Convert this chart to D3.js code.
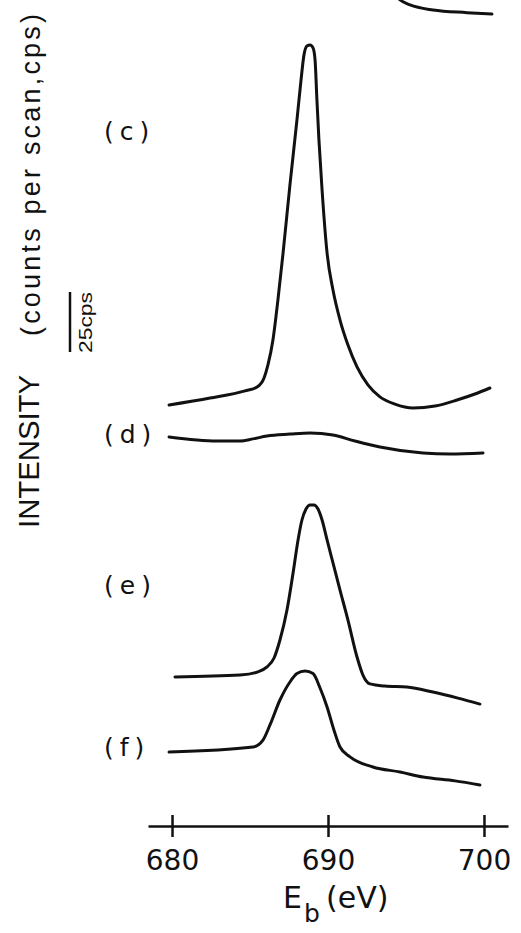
<!DOCTYPE html>
<html>
<head>
<meta charset="utf-8">
<script src="https://cdn.jsdelivr.net/npm/d3@7"></script>
<style>
  body { margin: 0; background: #fff; }
  svg { display: block; }
  .spec { fill: none; stroke: #111; stroke-width: 3; stroke-linejoin: round; stroke-linecap: round; }
  .lbl { font-family: "DejaVu Sans", sans-serif; font-size: 25px; fill: #111; letter-spacing: 6px; }
</style>
</head>
<body>
<svg id="chart"></svg>
<script>
var width = 521;
var height = 933;

// binding energy ticks (eV)
var tickValues = [680, 690, 700];

// spectra: energy (eV) and stacked intensity (cps)
var topE = [694.29, 694.62, 695.26, 696.73, 698.91, 700.51];
var topI = [346.3, 344.2, 342.1, 340.0, 338.9, 338.3];

var cE = [679.81, 682.44, 684.68, 685.45, 685.90, 686.15, 686.47, 686.79, 687.12, 687.56,
          688.01, 688.27, 688.46, 688.65, 688.85, 689.04, 689.17, 689.29, 689.42, 689.62,
          689.94, 690.32, 690.77, 691.28, 691.86, 692.56, 693.33, 694.29, 695.45, 696.86,
          698.27, 699.42, 700.38];
var cI = [175.4, 178.3, 181.3, 182.9, 186.7, 192.1, 202.5, 219.2, 238.8, 267.1,
          294.2, 310.8, 321.3, 325.0, 325.4, 324.2, 319.2, 302.5, 285.8, 265.0,
          238.8, 223.3, 210.8, 200.4, 191.3, 183.8, 178.8, 175.8, 174.2, 175.0,
          177.5, 180.0, 182.5];

var dE = [679.81, 682.88, 684.36, 685.19, 686.09, 687.56, 688.85, 690.32, 691.73, 693.33,
          696.09, 697.82, 699.94];
var dI = [162.1, 160.4, 160.4, 161.3, 162.5, 163.3, 163.8, 162.9, 160.4, 157.9,
          155.4, 155.0, 155.4];

var eE = [680.19, 684.36, 685.51, 686.09, 686.54, 686.92, 687.37, 687.76, 688.08, 688.33,
          688.59, 688.85, 689.10, 689.36, 689.62, 689.94, 690.32, 690.77, 691.28, 691.86,
          692.24, 692.69, 693.65, 695.06, 696.73, 698.33, 699.74];
var eI = [62.1, 62.9, 64.2, 66.3, 70.0, 77.5, 90.0, 105.4, 119.2, 127.5,
          132.1, 133.8, 133.8, 132.1, 127.5, 119.2, 109.6, 98.3, 85.8, 70.4,
          62.9, 59.2, 58.3, 57.9, 55.8, 53.3, 50.8];

var fE = [679.81, 685.19, 685.83, 686.28, 686.92, 687.56, 688.01, 688.53, 689.04,
          689.49, 689.94, 690.38, 690.77, 691.41, 692.88, 694.62, 696.09, 698.14, 699.74];
var fI = [30.8, 32.9, 35.8, 42.1, 52.5, 60.0, 63.5, 64.6, 63.5,
          57.5, 49.6, 40.0, 32.9, 28.8, 24.6, 22.5, 20.4, 18.8, 17.1];

var spectra = [
  { name: "", E: topE, I: topI },
  { name: "(c)", E: cE, I: cI },
  { name: "(d)", E: dE, I: dI },
  { name: "(e)", E: eE, I: eI },
  { name: "(f)", E: fE, I: fI }
];

var labelNames = ["(c)", "(d)", "(e)", "(f)"];
var labelLevels = [285.8, 159.6, 96.7, 29.2];   // cps level of each label baseline

var scaleBar = [0, 25];   // 25 cps

var xScale = d3.scaleLinear()
               .domain([678.46, 701.54])
               .range([148, 508]);

var yScale = d3.scaleLinear()
               .domain([0, 25])
               .range([826, 766]);

var svg = d3.select("#chart")
            .attr("width", width)
            .attr("height", height);

svg.append("rect")
    .attr("width", width)
    .attr("height", height)
    .attr("fill", "#fff");

var line = d3.line()
             .x(d => xScale(d[0]))
             .y(d => yScale(d[1]))
             .curve(d3.curveMonotoneX);

svg.selectAll(".spec")
    .data(spectra)
    .enter()
    .append("path")
      .attr("class", "spec")
      .attr("d", d => line(d.E.map((e, i) => [e, d.I[i]])));

svg.selectAll(".lbl")
    .data(labelNames)
    .enter()
    .append("text")
      .attr("class", "lbl")
      .attr("x", 104)
      .attr("y", (d, i) => yScale(labelLevels[i]))
      .text(d => d);

// x axis
var xAxis = d3.axisBottom(xScale)
              .tickValues(tickValues)
              .tickSizeInner(11)
              .tickSizeOuter(0)
              .tickFormat(d3.format("d"));

var gx = svg.append("g")
    .attr("transform", "translate(0," + yScale(0) + ")")
    .call(xAxis);

gx.select(".domain")
    .attr("stroke", "#111")
    .attr("stroke-width", 2.5);

gx.selectAll(".tick line")
    .attr("y1", -11)
    .attr("stroke", "#111")
    .attr("stroke-width", 2.5);

gx.selectAll(".tick text")
    .attr("y", 24)
    .attr("fill", "#111")
    .style("font-family", "'DejaVu Sans', sans-serif")
    .style("font-size", "28px");

// x label E_b (eV)
var xl = svg.append("text")
    .attr("y", 908)
    .attr("fill", "#111")
    .style("font-family", "'DejaVu Sans', sans-serif")
    .style("font-size", "30px");
xl.append("tspan").attr("x", 283).text("E");
xl.append("tspan").attr("x", 304).attr("dy", 14).style("font-size", "25px").text("b");
xl.append("tspan").attr("x", 326).attr("dy", -14).text("(eV)");

// y label
svg.append("text")
    .attr("transform", "translate(39,528) rotate(-90)")
    .attr("fill", "#111")
    .attr("textLength", 153)
    .attr("lengthAdjust", "spacingAndGlyphs")
    .style("font-family", "'Liberation Sans', sans-serif")
    .style("font-size", "29px")
    .text("INTENSITY");

svg.append("text")
    .attr("transform", "translate(40,336) rotate(-90)")
    .attr("fill", "#111")
    .attr("textLength", 322)
    .attr("lengthAdjust", "spacing")
    .style("font-family", "'Liberation Sans', sans-serif")
    .style("font-size", "27px")
    .text("(counts per scan,cps)");

// 25 cps scale bar
svg.append("line")
    .attr("x1", 70)
    .attr("x2", 70)
    .attr("y1", yScale(scaleBar[0]) - 474)
    .attr("y2", yScale(scaleBar[1]) - 474)
    .attr("stroke", "#111")
    .attr("stroke-width", 2.5);

svg.append("text")
    .attr("transform", "translate(92,353) rotate(-90)")
    .attr("fill", "#111")
    .attr("textLength", 61)
    .attr("lengthAdjust", "spacingAndGlyphs")
    .style("font-family", "'Liberation Sans', sans-serif")
    .style("font-size", "18px")
    .text("25cps");
</script>
</body>
</html>
